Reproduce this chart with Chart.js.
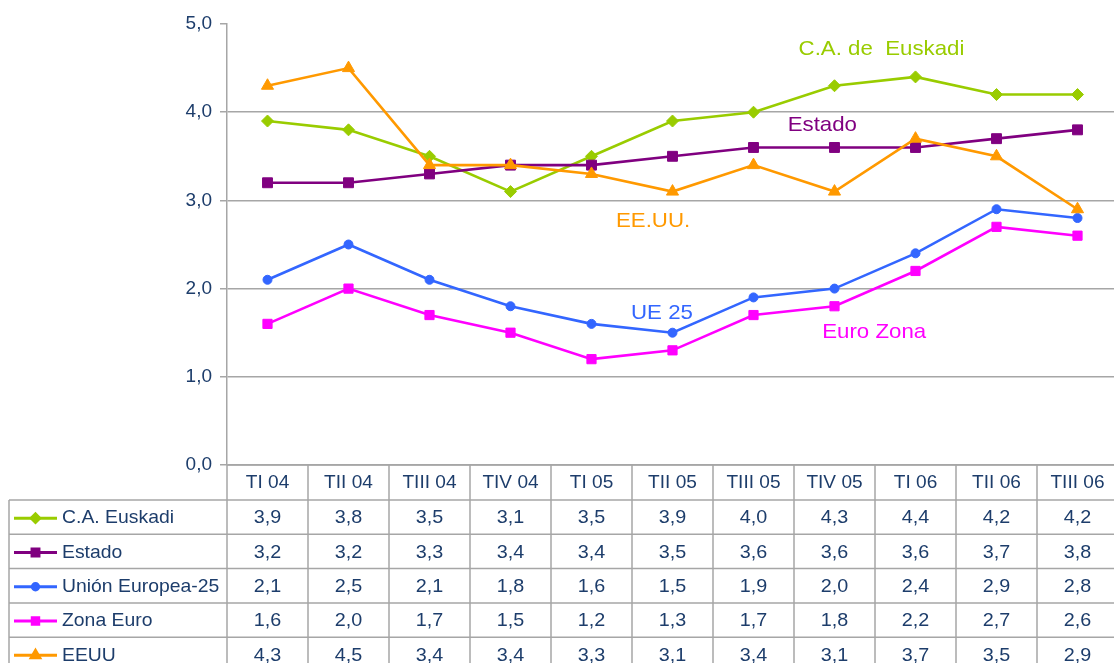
<!DOCTYPE html>
<html>
<head>
<meta charset="utf-8">
<script src="https://cdn.jsdelivr.net/npm/chart.js@4/dist/chart.umd.min.js"></script>
<style>
  html,body{margin:0;padding:0;background:#fff;overflow:hidden;}
  #wrap{position:absolute;left:0;top:0;width:1126px;height:663px;}
</style>
</head>
<body>
<div id="wrap"><canvas id="chart" width="1126" height="663"></canvas></div>
<script>
const CATEGORIES=["TI 04","TII 04","TIII 04","TIV 04","TI 05","TII 05","TIII 05","TIV 05","TI 06","TII 06","TIII 06"]
const EUSKADI=[3.9,3.8,3.5,3.1,3.5,3.9,4.0,4.3,4.4,4.2,4.2]
const ESTADO=[3.2,3.2,3.3,3.4,3.4,3.5,3.6,3.6,3.6,3.7,3.8]
const UE25=[2.1,2.5,2.1,1.8,1.6,1.5,1.9,2.0,2.4,2.9,2.8]
const ZONA_EURO=[1.6,2.0,1.7,1.5,1.2,1.3,1.7,1.8,2.2,2.7,2.6]
const EEUU=[4.3,4.5,3.4,3.4,3.3,3.1,3.4,3.1,3.7,3.5,2.9]
const SERIES_NAMES=["C.A. Euskadi","Estado","Unión Europea-25","Zona Euro","EEUU"]
const Y_TICKS=[0,1,2,3,4,5]

const NAVY="#1d3d6b"
const GRID="#a6a6a6"
const FONT="'Liberation Sans', Arial, sans-serif"
const fmt=v=>v.toFixed(1).replace(".",",")

const styles=[
  {color:"#99cc00",point:"rectRot",r:6},
  {color:"#800080",point:"rect",r:7},
  {color:"#3366ff",point:"circle",r:4.5},
  {color:"#ff00ff",point:"rect",r:6.5},
  {color:"#ff9900",point:"triangle",r:7}
]
const allValues=[EUSKADI,ESTADO,UE25,ZONA_EURO,EEUU]

// in-chart series labels, anchored in data units (category index, value)
const notes=[
  {text:"C.A. de  Euskadi",i:7.58,v:4.71,color:"#99cc00"},
  {text:"Estado",i:6.85,v:3.85,color:"#800080"},
  {text:"EE.UU.",i:4.76,v:2.76,color:"#ff9900"},
  {text:"UE 25",i:4.87,v:1.72,color:"#3366ff"},
  {text:"Euro Zona",i:7.49,v:1.50,color:"#ff00ff"}
]

// the original text looks a little wide, so stretch it sideways a bit
function wideText(ctx,text,x,y,sx){
  ctx.save()
  ctx.translate(x,y)
  ctx.scale(sx,1)
  ctx.fillText(text,0,0)
  ctx.restore()
}

const tablePlugin={
  id:"dataTable",
  afterDraw(chart){
    const ctx=chart.ctx
    const xs=chart.scales.x, ys=chart.scales.y
    const area=chart.chartArea
    const colW=(area.right-area.left)/CATEGORIES.length
    const top=area.bottom
    const headH=35, rowH=34.3
    const leftX=9
    const bottom=chart.height+20

    ctx.save()
    ctx.font="21px "+FONT
    ctx.textAlign="center"
    ctx.textBaseline="middle"
    notes.forEach(n=>{
      ctx.fillStyle=n.color
      wideText(ctx,n.text,xs.getPixelForValue(n.i),ys.getPixelForValue(n.v),1.06)
    })

    ctx.strokeStyle=GRID
    ctx.lineWidth=1.5
    ctx.beginPath()
    ctx.moveTo(area.left,top);ctx.lineTo(area.right,top)
    for(let r=0;r<=SERIES_NAMES.length;r++){
      const y=top+headH+r*rowH
      ctx.moveTo(leftX,y);ctx.lineTo(area.right,y)
    }
    ctx.moveTo(leftX,top+headH);ctx.lineTo(leftX,bottom)
    for(let c=0;c<=CATEGORIES.length;c++){
      const x=area.left+c*colW
      ctx.moveTo(x,top);ctx.lineTo(x,bottom)
    }
    ctx.stroke()

    ctx.fillStyle=NAVY
    ctx.font="18px "+FONT
    CATEGORIES.forEach((c,i)=>{
      wideText(ctx,c,xs.getPixelForValue(i),top+headH/2+1,1.06)
    })

    ctx.font="19px "+FONT
    allValues.forEach((vals,r)=>{
      const yc=top+headH+r*rowH+rowH/2+1
      ctx.textAlign="center"
      vals.forEach((v,i)=>{
        ctx.fillStyle=NAVY
        wideText(ctx,fmt(v),xs.getPixelForValue(i),yc,1.04)
      })
      const st=styles[r]
      ctx.strokeStyle=st.color
      ctx.lineWidth=3
      ctx.beginPath();ctx.moveTo(14,yc);ctx.lineTo(57,yc);ctx.stroke()
      ctx.fillStyle=st.color
      Chart.helpers.drawPoint(ctx,{pointStyle:st.point,radius:st.r*0.7,rotation:0,borderWidth:1},35.5,yc)
      ctx.fillStyle=NAVY
      ctx.textAlign="left"
      wideText(ctx,SERIES_NAMES[r],62,yc,1.02)
    })
    ctx.restore()
  }
}

new Chart(document.getElementById("chart"),{
  type:"line",
  data:{
    labels:CATEGORIES,
    datasets:SERIES_NAMES.map((name,k)=>({
      label:name,
      data:allValues[k],
      borderColor:styles[k].color,
      backgroundColor:styles[k].color,
      pointBackgroundColor:styles[k].color,
      pointBorderColor:styles[k].color,
      pointStyle:styles[k].point,
      pointRadius:styles[k].r,
      pointBorderWidth:1,
      borderWidth:2.6,
      tension:0
    })).reverse()
  },
  options:{
    responsive:false,
    animation:false,
    layout:{padding:{top:24,bottom:198,left:0,right:0}},
    plugins:{legend:{display:false},tooltip:{enabled:false}},
    scales:{
      x:{display:false,offset:true},
      y:{
        min:0,max:5,
        afterBuildTicks(s){s.ticks=Y_TICKS.map(v=>({value:v}))},
        afterFit(s){s.width=227},
        ticks:{callback:v=>fmt(v),color:NAVY,font:{size:19,family:FONT},padding:8},
        grid:{color:c=>c.tick&&c.tick.value===5?"rgba(0,0,0,0)":GRID,tickColor:GRID,tickLength:7,lineWidth:1.5},
        border:{color:GRID,width:1.5}
      }
    }
  },
  plugins:[tablePlugin]
})
</script>
</body>
</html>
